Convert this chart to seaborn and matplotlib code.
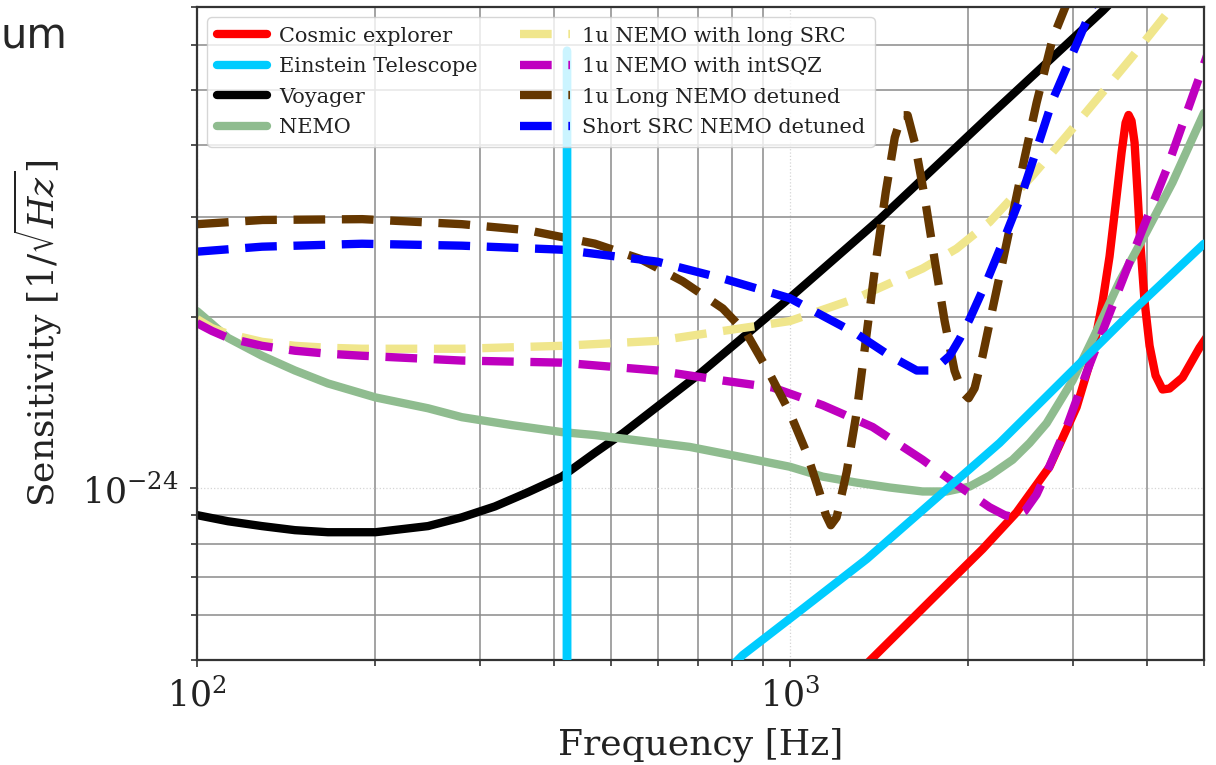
import numpy as np
import matplotlib
matplotlib.use("Agg")
import matplotlib.pyplot as plt
import seaborn as sns
from matplotlib.ticker import LogLocator, NullFormatter

UNIT = 1e-24  # sensitivities below are in units of 1e-24 1/sqrt(Hz)

# Cosmic explorer
ce_f = [1338, 1380, 1742, 2116, 2414, 2744, 3048, 3243, 3373, 3464, 3559, 3630, 3687,
        3730, 3773, 3818, 3862, 3908, 3969, 4047, 4142, 4256, 4373, 4600, 4913, 5108]
ce_s = [0.488, 0.504, 0.641, 0.783, 0.908, 1.092, 1.389, 1.724, 2.132, 2.553, 3.245, 3.887, 4.383,
        4.525, 4.418, 4.046, 3.311, 2.657, 2.132, 1.780, 1.579, 1.492, 1.498, 1.566, 1.766, 1.875]

# Einstein Telescope
et_f = [420.5, 421, 421.5, 808, 833, 1039, 1349, 1742, 2260, 2932, 3787, 5000]
et_s = [0.40, 5.87, 0.40, 0.494, 0.510, 0.609, 0.752, 0.949, 1.202, 1.573, 2.048, 2.689]

# Voyager
vo_f = [100, 112.8, 128.7, 146.3, 166.3, 200, 245.3, 279.8, 318.1, 361, 412.6, 469.0, 523,
        705, 1000, 1419, 2174, 3373, 3892]
vo_s = [0.898, 0.876, 0.859, 0.845, 0.838, 0.838, 0.859, 0.890, 0.930, 0.984, 1.049, 1.155, 1.25,
        1.59, 2.16, 2.97, 4.51, 6.89, 8.0]

# NEMO
ne_f = [100, 106.0, 112.8, 128.7, 146.3, 166.3, 200, 245.3, 279.8, 339.8, 412.6, 469.0, 678.1,
        823.7, 1000, 1137, 1297, 1475, 1676, 1840, 2012, 2174, 2377, 2540, 2713, 3001, 3294,
        3602, 3999, 4425, 5000]
ne_s = [2.048, 1.944, 1.838, 1.710, 1.611, 1.529, 1.445, 1.383, 1.334, 1.292, 1.256, 1.241, 1.183,
        1.137, 1.092, 1.049, 1.024, 1.004, 0.988, 0.988, 1.008, 1.053, 1.123, 1.202, 1.302, 1.547, 1.890,
        2.309, 2.821, 3.446, 4.561]

# 1u NEMO with long SRC
ls_f = [100, 106.0, 112.8, 128.7, 146.3, 166.3, 189.8, 279.8, 412.6, 596.8, 771, 1000, 1297,
        1676, 1912, 2174, 2570, 2932, 3333, 3787, 4323, 4636]
ls_s = [1.983, 1.912, 1.868, 1.809, 1.780, 1.766, 1.759, 1.759, 1.780, 1.816, 1.890, 1.967, 2.158,
        2.433, 2.636, 2.936, 3.544, 4.160, 4.884, 5.731, 6.808, 7.52]

# 1u NEMO with intSQZ
sq_f = [100, 106.0, 112.8, 128.7, 146.3, 166.3, 189.8, 279.8, 412.6, 596.8, 771, 935.9, 1137,
        1380, 1676, 1912, 2174, 2305, 2395, 2491, 2609, 2713, 2932, 3168, 3424, 3787, 4323, 5108]
sq_s = [1.951, 1.890, 1.838, 1.780, 1.745, 1.724, 1.710, 1.677, 1.663, 1.611, 1.547, 1.504, 1.400,
        1.282, 1.123, 1.016, 0.927, 0.898, 0.890, 0.912, 0.976, 1.066, 1.282, 1.598, 1.967, 2.573, 3.631, 5.918]

# 1u Long NEMO detuned
ld_f = [100, 129, 190, 280, 361, 469, 559, 660, 771, 846, 925, 1000, 1068, 1123, 1150, 1173,
        1200, 1248, 1297, 1344, 1396, 1452, 1504, 1545, 1581, 1625, 1689, 1756, 1825, 1897,
        1957, 2004, 2051, 2116, 2191, 2260, 2377, 2491, 2609, 2777, 2932, 3024]
ld_s = [2.91, 2.96, 2.97, 2.91, 2.84, 2.69, 2.53, 2.31, 2.07, 1.87, 1.59, 1.36, 1.155, 0.984, 0.90, 0.862,
        0.89, 1.07, 1.36, 1.82, 2.48, 3.31, 4.13, 4.52, 4.52, 4.05, 3.25, 2.52, 1.97, 1.61,
        1.475, 1.44, 1.50, 1.71, 2.03, 2.36, 3.02, 3.81, 4.75, 6.16, 7.09, 7.83]

# Short SRC NEMO detuned
sd_f = [100, 128.7, 189.8, 279.8, 412.6, 596.8, 771, 1000, 1297, 1475, 1638, 1722, 1791, 1862,
        1935, 2012, 2149, 2322, 2471, 2609, 2777, 3001, 3206, 3307]
sd_s = [2.604, 2.657, 2.689, 2.668, 2.625, 2.502, 2.337, 2.158, 1.868, 1.710, 1.611, 1.611, 1.650, 1.710,
        1.830, 1.983, 2.309, 2.810, 3.311, 3.933, 4.806, 5.800, 6.808, 7.43]

names = ["Cosmic explorer", "Einstein Telescope", "Voyager", "NEMO",
         "1u NEMO with long SRC", "1u NEMO with intSQZ", "1u Long NEMO detuned",
         "Short SRC NEMO detuned"]
freqs = [ce_f, et_f, vo_f, ne_f, ls_f, sq_f, ld_f, sd_f]
sens = [ce_s, et_s, vo_s, ne_s, ls_s, sq_s, ld_s, sd_s]
colors = ["#ff0000", "#00ccff", "#000000", "#8fbc8f", "#f0e68c", "#bf00bf", "#653700", "#0000ff"]
dashed = [False, False, False, False, True, True, True, True]
zorders = [2, 3.5, 2, 2, 2.1, 2.2, 2.3, 2.4]

sns.set_style("white")
plt.rcParams["font.family"] = ["DejaVu Serif"]
plt.rcParams["mathtext.fontset"] = "dejavuserif"

fig = plt.figure(figsize=(12.16, 7.65), dpi=100)
ax = fig.add_axes([197 / 1216, 105 / 765, 1007 / 1216, 653 / 765])
ax.set_xscale("log")
ax.set_yscale("log")

for name, f, s, c, d, z in zip(names, freqs, sens, colors, dashed, zorders):
    n_before = len(ax.lines)
    sns.lineplot(x=np.array(f, dtype=float), y=np.array(s) * UNIT, ax=ax, color=c,
                 linestyle="--" if d else "-", linewidth=6, label=name, zorder=z,
                 estimator=None, sort=False)
    if d:
        for ln in ax.lines[n_before:]:
            ln.set_dashes((3.8, 2.0))

ax.set_xlim(100, 5000)
ax.set_ylim(5e-25, 7e-24)
ax.xaxis.set_minor_locator(LogLocator(base=10, subs=np.arange(2, 10)))
ax.yaxis.set_minor_locator(LogLocator(base=10, subs=np.arange(2, 10)))
ax.xaxis.set_minor_formatter(NullFormatter())
ax.yaxis.set_minor_formatter(NullFormatter())

ax.grid(True, which="minor", color="#8a8a8a", linewidth=1.1, linestyle="-")
ax.grid(True, which="major", color="#d5d5d5", linewidth=0.9, linestyle=":")
ax.set_axisbelow(True)

for sp in ax.spines.values():
    sp.set_visible(True)
    sp.set_color("#333333")
    sp.set_linewidth(1.6)

ax.tick_params(which="both", direction="out", left=True, bottom=True, colors="#333333",
               labelcolor="#222222", width=1.2)
ax.tick_params(which="major", length=5, labelsize=25, pad=8)
ax.tick_params(which="minor", length=4)

ax.set_xlabel("Frequency [Hz]", fontsize=26, color="#222222", labelpad=10)
ax.set_ylabel(r"Sensitivity $[1/\sqrt{Hz}]$", fontsize=26, color="#222222", labelpad=13)

leg = ax.legend(loc="upper left", ncol=2, fontsize=15, handlelength=2.4, labelspacing=0.55,
                columnspacing=2.0, handletextpad=0.6, borderpad=0.45, framealpha=0.8,
                edgecolor="#cccccc", fancybox=True)
for t in leg.get_texts():
    t.set_color("#222222")

fig.text(0.0, 1 - 47 / 765, "um", fontsize=30, family="DejaVu Sans", va="baseline", ha="left")

fig.savefig("out.png", dpi=100)
